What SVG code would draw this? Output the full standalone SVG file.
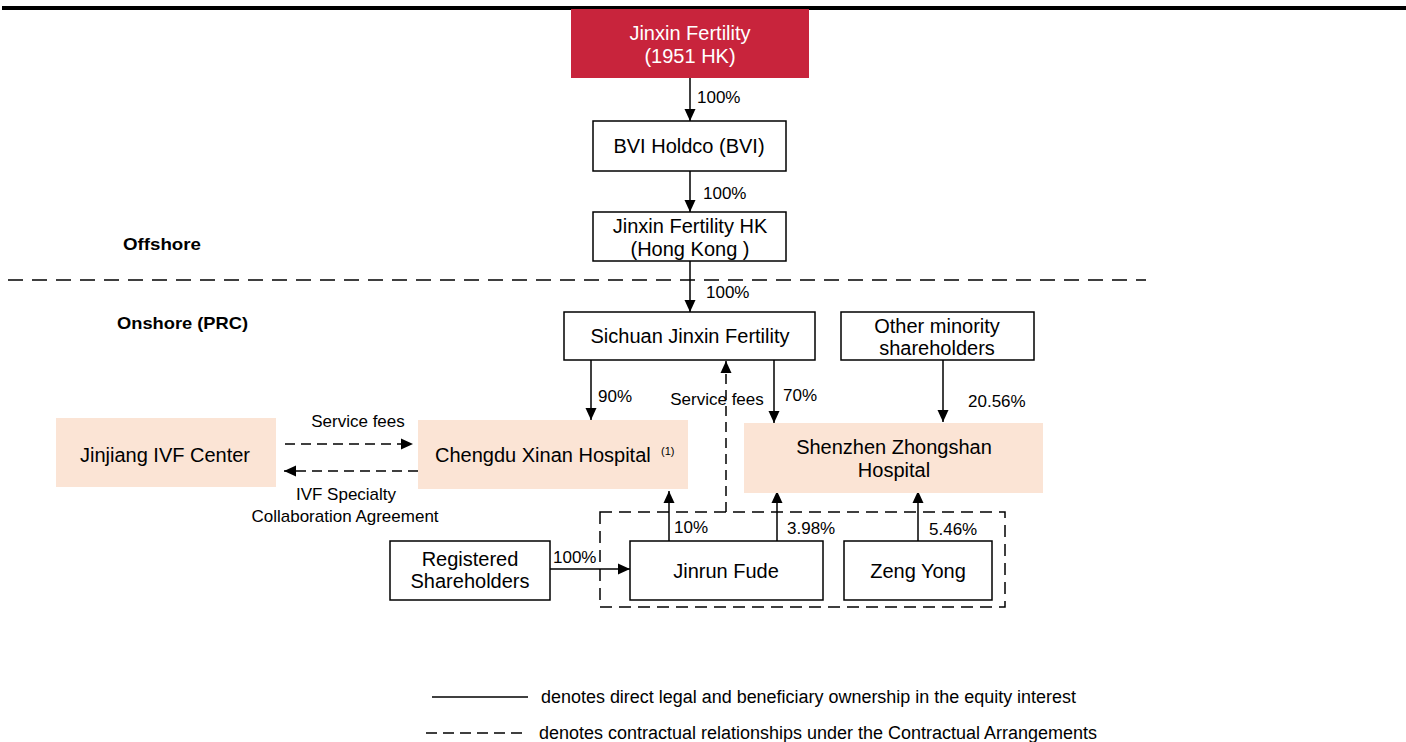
<svg xmlns="http://www.w3.org/2000/svg" width="1406" height="742" viewBox="0 0 1406 742">
<defs>
<marker id="ah" markerUnits="userSpaceOnUse" markerWidth="12" markerHeight="12" refX="12" refY="6" orient="auto">
<path d="M0,0.5 L12,6 L0,11.5 z" fill="#000"/>
</marker>
<style>
text{font-family:"Liberation Sans",Arial,sans-serif;fill:#000}
.box{fill:#fff;stroke:#000;stroke-width:1.5}
.peach{fill:#FBE4D5;stroke:none}
.red{fill:#C8243C;stroke:none}
.t{font-size:20px;text-anchor:middle}
.w{fill:#fff}
.lbl{font-size:17px}
.lc{font-size:17px;text-anchor:middle}
.sec{font-size:17px;font-weight:bold}
.leg{font-size:18px}
.ln{stroke:#000;stroke-width:1.5;fill:none}
.arr{stroke:#000;stroke-width:1.5;fill:none;marker-end:url(#ah)}
.dash{stroke-dasharray:10,6}
</style>
</defs>
<rect x="2" y="6" width="1404" height="4" fill="#000"/>

<text class="sec" x="123" y="250" textLength="78" lengthAdjust="spacingAndGlyphs">Offshore</text>
<text class="sec" x="117" y="329" textLength="131" lengthAdjust="spacingAndGlyphs">Onshore (PRC)</text>
<line class="ln" x1="8" y1="280" x2="1146" y2="280" stroke-dasharray="15,9"/>

<g id="connectors">
<line class="arr" x1="690" y1="78" x2="690" y2="121"/>
<line class="arr" x1="690" y1="171" x2="690" y2="212"/>
<line class="arr" x1="690" y1="261" x2="690" y2="312"/>
<line class="arr" x1="591" y1="360" x2="591" y2="420"/>
<line class="arr" x1="774" y1="360" x2="774" y2="423"/>
<line class="arr" x1="943" y1="360" x2="943" y2="422"/>
<line class="arr dash" x1="726" y1="512" x2="726" y2="361"/>
<line class="arr dash" x1="285" y1="444" x2="413" y2="444"/>
<line class="arr dash" x1="418" y1="471" x2="284" y2="471"/>
<line class="arr" x1="669" y1="541" x2="669" y2="491"/>
<line class="arr" x1="777" y1="541" x2="777" y2="491"/>
<line class="arr" x1="918" y1="541" x2="918" y2="491"/>
<line class="arr" x1="550" y1="569" x2="630" y2="569"/>
<rect x="600" y="512" width="405" height="95" fill="none" stroke="#000" stroke-width="1.5" stroke-dasharray="12,7"/>
<text class="lbl" x="697" y="103">100%</text>
<text class="lbl" x="703" y="199">100%</text>
<text class="lbl" x="706" y="298">100%</text>
<text class="lbl" x="598" y="402">90%</text>
<text class="lbl" x="783" y="401">70%</text>
<text class="lbl" x="968" y="407">20.56%</text>
<text class="lc" x="717" y="405">Service fees</text>
<text class="lc" x="358" y="427">Service fees</text>
<text class="lc" x="346" y="500">IVF Specialty</text>
<text class="lc" x="345" y="522">Collaboration Agreement</text>
<text class="lbl" x="674" y="533">10%</text>
<text class="lbl" x="787" y="534">3.98%</text>
<text class="lbl" x="929" y="535">5.46%</text>
<text class="lbl" x="553" y="563">100%</text>
</g>

<g id="jinxin-fertility">
<rect class="red" x="571" y="9" width="238" height="69"/>
<text class="t w" x="690" y="39.5">Jinxin Fertility</text>
<text class="t w" x="690" y="62.5">(1951 HK)</text>
</g>
<g id="bvi-holdco">
<rect class="box" x="593" y="121" width="193" height="50"/>
<text class="t" x="689" y="152.5">BVI  Holdco (BVI)</text>
</g>
<g id="jinxin-hk">
<rect class="box" x="593" y="212" width="193" height="49"/>
<text class="t" x="690" y="232.5">Jinxin Fertility HK</text>
<text class="t" x="690" y="255.5">(Hong Kong )</text>
</g>
<g id="sichuan">
<rect class="box" x="564" y="312" width="251" height="48"/>
<text class="t" x="690" y="343">Sichuan Jinxin Fertility</text>
</g>
<g id="other-minority">
<rect class="box" x="841" y="312" width="193" height="48"/>
<text class="t" x="937" y="333">Other minority</text>
<text class="t" x="937" y="355">shareholders</text>
</g>
<g id="jinjiang">
<rect class="peach" x="56" y="418" width="220" height="69"/>
<text class="t" x="165" y="462">Jinjiang IVF Center</text>
</g>
<g id="chengdu">
<rect class="peach" x="418" y="420" width="270" height="69"/>
<text class="t" x="435" y="462" text-anchor="start" style="text-anchor:start">Chengdu Xinan Hospital</text>
<text x="661" y="455" font-size="11">(1)</text>
</g>
<g id="shenzhen">
<rect class="peach" x="744" y="423" width="299" height="70"/>
<text class="t" x="894" y="454">Shenzhen Zhongshan</text>
<text class="t" x="894" y="477">Hospital</text>
</g>
<g id="registered">
<rect class="box" x="390" y="541" width="160" height="59"/>
<text class="t" x="470" y="566">Registered</text>
<text class="t" x="470" y="588">Shareholders</text>
</g>
<g id="jinrun-fude">
<rect class="box" x="630" y="541" width="193" height="59"/>
<text class="t" x="726" y="578">Jinrun Fude</text>
</g>
<g id="zeng-yong">
<rect class="box" x="844" y="541" width="148" height="59"/>
<text class="t" x="918" y="578">Zeng Yong</text>
</g>

<g id="legend">
<line class="ln" x1="432" y1="697" x2="528" y2="697"/>
<text class="leg" x="541" y="703" textLength="535" lengthAdjust="spacingAndGlyphs">denotes direct legal and beneficiary ownership in the equity interest</text>
<line class="ln" x1="426" y1="733" x2="528" y2="733" stroke-dasharray="11,6"/>
<text class="leg" x="539" y="739" textLength="558" lengthAdjust="spacingAndGlyphs">denotes contractual relationships under the Contractual Arrangements</text>
</g>
</svg>
